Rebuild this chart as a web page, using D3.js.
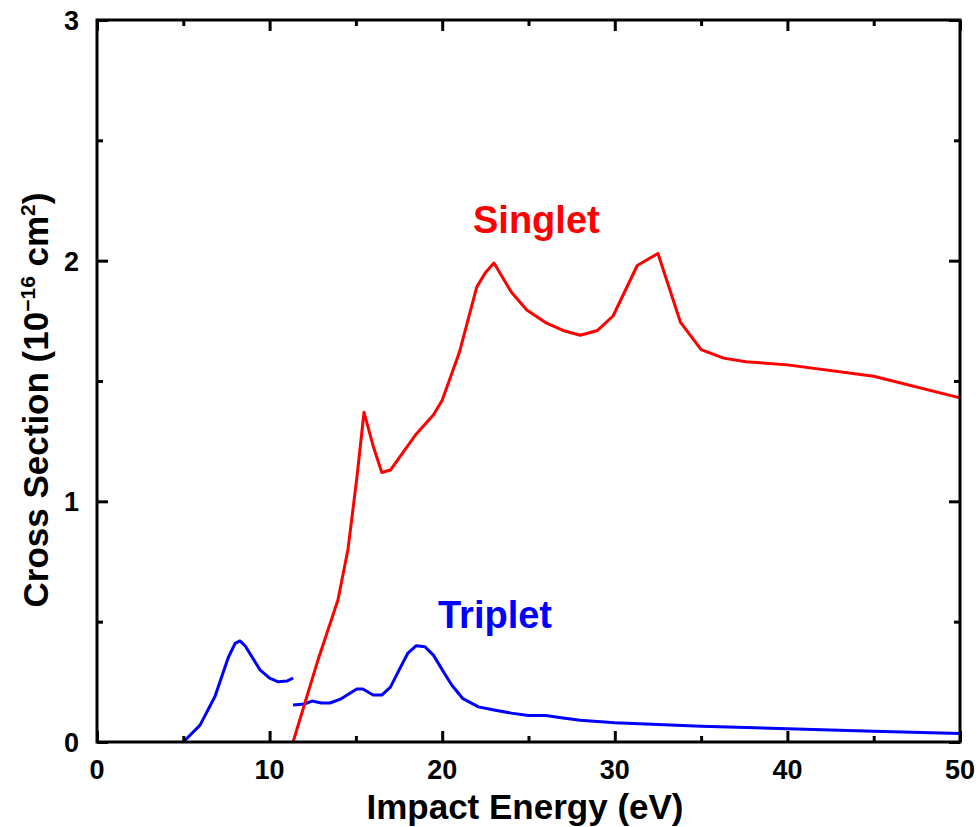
<!DOCTYPE html>
<html lang="en">
<head>
  <meta charset="UTF-8">
  <title>Cross Section vs Impact Energy</title>
  <script src="https://d3js.org/d3.v7.min.js"></script>
  <style>
    body { margin: 0; background: #fff; }
    text { font-family: "Liberation Sans", Arial, sans-serif; font-weight: bold; }
  </style>
</head>
<body>
  <svg id="chart" width="979" height="827"></svg>

  <script>
    // singlet (red) curve, energy in eV
    const singletE = [11.36, 12.8, 13.96, 14.54, 15.06, 15.47, 16.0, 16.5, 17.0, 17.7, 18.5, 19.5, 20.0,
      20.55, 21.0, 22.0, 22.5, 23.0, 24.0, 24.9, 26.05, 27.0, 28.0, 29.0, 29.9, 31.3, 32.5,
      33.8, 35.0, 36.3, 37.6, 40.0, 45.0, 50.0];
    const singletV = [0, 0.34, 0.59, 0.80, 1.10, 1.37, 1.23, 1.12, 1.13, 1.20, 1.28, 1.36, 1.42,
      1.53, 1.62, 1.89, 1.95, 1.99, 1.87, 1.795, 1.74, 1.71, 1.69, 1.71, 1.77, 1.98, 2.03,
      1.745, 1.63, 1.595, 1.58, 1.567, 1.52, 1.43];

    // triplet (blue), first piece below 11.4 eV
    const triplet1E = [5.0, 5.97, 6.84, 7.6, 8.0, 8.28, 8.58, 9.44, 10.0, 10.5, 11.0, 11.36];
    const triplet1V = [0, 0.07, 0.19, 0.35, 0.41, 0.42, 0.40, 0.30, 0.265, 0.25, 0.253, 0.266];

    // triplet (blue), second piece
    const triplet2E = [11.36, 12.05, 12.45, 13.0, 13.5, 14.1, 15.05, 15.4, 16.0, 16.5, 17.0, 17.55,
      18.0, 18.5, 19.0, 19.5, 20.0, 20.55, 21.2, 22.1, 23.0, 24.0, 25.0, 26.0, 27.0, 28.0,
      30.0, 35.0, 40.0, 45.0, 50.0];
    const triplet2V = [0.154, 0.158, 0.17, 0.162, 0.162, 0.178, 0.22, 0.22, 0.195, 0.195, 0.228, 0.306,
      0.368, 0.40, 0.396, 0.36, 0.30, 0.237, 0.18, 0.146, 0.133, 0.12, 0.11, 0.11, 0.10, 0.09,
      0.08, 0.065, 0.055, 0.045, 0.035];

    const xTicks = [0, 10, 20, 30, 40, 50];
    const yTicks = [0, 1, 2, 3];

    const svg = d3.select('#chart');
    const mLeft = 97, mRight = 960, mTop = 20, mBottom = 742;

    const x = d3.scaleLinear().domain([0, 50]).range([mLeft, mRight]);
    const y = d3.scaleLinear().domain([0, 3]).range([mBottom, mTop]);

    const zip = (a, b) => a.map((v, i) => [v, b[i]]);
    const line = d3.line().x(d => x(d[0])).y(d => y(d[1]));

    // curves (drawn under the frame)
    const g = svg.append('g').attr('fill', 'none').attr('stroke-width', 3)
      .attr('stroke-linejoin', 'round');
    g.append('path').datum(zip(triplet1E, triplet1V)).attr('stroke', '#0000ff').attr('d', line);
    g.append('path').datum(zip(triplet2E, triplet2V)).attr('stroke', '#0000ff').attr('d', line);
    g.append('path').datum(zip(singletE, singletV)).attr('stroke', '#ff0000').attr('d', line);

    // axes, ticks inward on all four sides
    const xMinor = d3.range(5, 50, 10);
    const yMinor = d3.range(0.5, 3, 1);

    svg.append('g').attr('transform', `translate(0,${mBottom})`)
      .call(d3.axisTop(x).tickValues(xTicks).tickSize(11).tickFormat(''));
    svg.append('g').attr('transform', `translate(0,${mBottom})`)
      .call(d3.axisTop(x).tickValues(xMinor).tickSize(6).tickFormat(''));
    svg.append('g').attr('transform', `translate(0,${mTop})`)
      .call(d3.axisBottom(x).tickValues(xTicks).tickSize(11).tickFormat(''));
    svg.append('g').attr('transform', `translate(0,${mTop})`)
      .call(d3.axisBottom(x).tickValues(xMinor).tickSize(6).tickFormat(''));
    svg.append('g').attr('transform', `translate(${mLeft},0)`)
      .call(d3.axisRight(y).tickValues(yTicks).tickSize(11).tickFormat(''));
    svg.append('g').attr('transform', `translate(${mLeft},0)`)
      .call(d3.axisRight(y).tickValues(yMinor).tickSize(6).tickFormat(''));
    svg.append('g').attr('transform', `translate(${mRight},0)`)
      .call(d3.axisLeft(y).tickValues(yTicks).tickSize(11).tickFormat(''));
    svg.append('g').attr('transform', `translate(${mRight},0)`)
      .call(d3.axisLeft(y).tickValues(yMinor).tickSize(6).tickFormat(''));

    svg.selectAll('.domain').remove();
    svg.selectAll('.tick line').attr('stroke', '#000').attr('stroke-width', 3);

    svg.append('rect')
      .attr('x', mLeft).attr('y', mTop)
      .attr('width', mRight - mLeft).attr('height', mBottom - mTop)
      .attr('fill', 'none').attr('stroke', '#000').attr('stroke-width', 3);

    // tick labels
    svg.selectAll('.xlab').data(xTicks).enter().append('text')
      .attr('x', d => x(d)).attr('y', mBottom + 37)
      .attr('text-anchor', 'middle').attr('font-size', 27)
      .text(d => d);
    svg.selectAll('.ylab').data(yTicks).enter().append('text')
      .attr('x', mLeft - 18).attr('y', d => y(d) + 10)
      .attr('text-anchor', 'end').attr('font-size', 27)
      .text(d => d);

    // axis titles
    svg.append('text')
      .attr('x', 525).attr('y', 819)
      .attr('text-anchor', 'middle').attr('font-size', 35)
      .text('Impact Energy (eV)');

    const yt = svg.append('text')
      .attr('transform', `translate(48,400) rotate(-90)`)
      .attr('text-anchor', 'middle').attr('font-size', 35);
    yt.append('tspan').text('Cross Section (10');
    yt.append('tspan').attr('font-size', 21).attr('dy', -13).text('\u221216');
    yt.append('tspan').attr('dy', 13).text(' cm');
    yt.append('tspan').attr('font-size', 21).attr('dy', -13).text('2');
    yt.append('tspan').attr('dy', 13).text(')');

    // series labels
    svg.append('text').attr('x', 473).attr('y', 233)
      .attr('font-size', 38).attr('fill', '#ff0000').text('Singlet');
    svg.append('text').attr('x', 438).attr('y', 628)
      .attr('font-size', 38).attr('fill', '#0000ff').text('Triplet');
  </script>
</body>
</html>
